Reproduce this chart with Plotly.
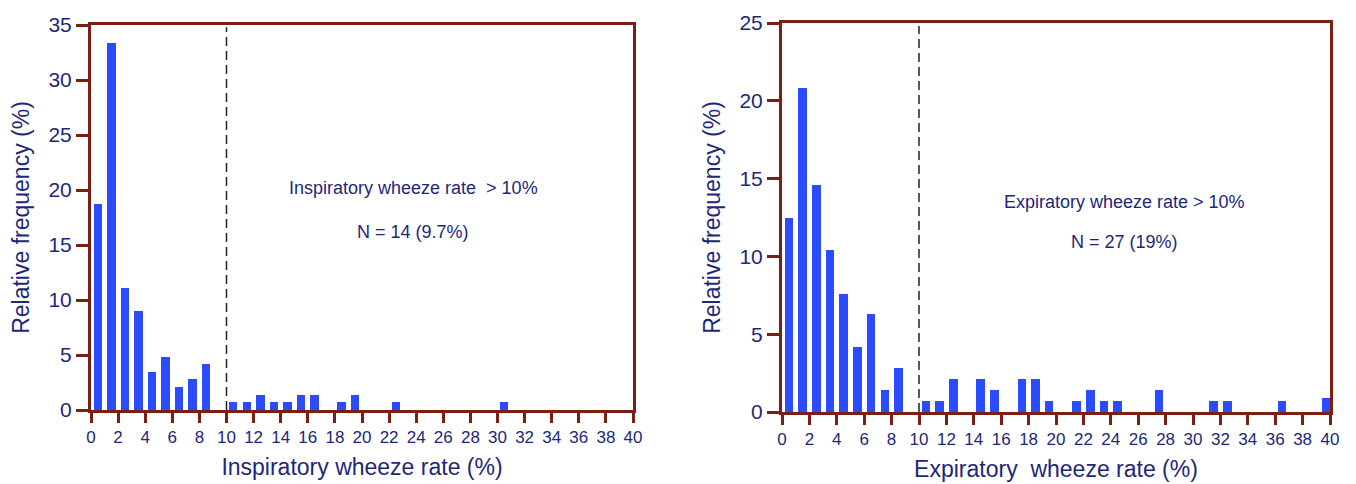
import plotly.graph_objects as go

# ---- data ----
insp_bins = [0.5, 1.5, 2.5, 3.5, 4.5, 5.5, 6.5, 7.5, 8.5, 10.5, 11.5, 12.5, 13.5, 14.5,
             15.5, 16.5, 18.5, 19.5, 22.5, 30.5]
insp_freq = [18.75, 33.33, 11.11, 9.03, 3.47, 4.86, 2.08, 2.78, 4.17, 0.69, 0.69, 1.39,
             0.69, 0.69, 1.39, 1.39, 0.69, 1.39, 0.69, 0.69]

exp_bins = [0.5, 1.5, 2.5, 3.5, 4.5, 5.5, 6.5, 7.5, 8.5, 10.5, 11.5, 12.5, 14.5, 15.5,
            17.5, 18.5, 19.5, 21.5, 22.5, 23.5, 24.5, 27.5, 31.5, 32.5, 36.5, 39.75]
exp_freq = [12.5, 20.8, 14.6, 10.4, 7.6, 4.2, 6.3, 1.4, 2.8, 0.7, 0.7, 2.1, 2.1, 1.4,
            2.1, 2.1, 0.7, 0.7, 1.4, 0.7, 0.7, 1.4, 0.7, 0.7, 0.7, 0.9]

x_ticks = list(range(0, 41, 2))
insp_yticks = [0, 5, 10, 15, 20, 25, 30, 35]
exp_yticks = [0, 5, 10, 15, 20, 25]

BAR = "#2B4BFF"
FRAME = "#7A1F12"
TEXT = "#1E2878"
FONT = "Liberation Sans, Arial, sans-serif"

fig = go.Figure()
fig.add_trace(go.Bar(x=insp_bins, y=insp_freq, width=0.62, marker=dict(color=BAR, line=dict(width=0)),
                     xaxis="x", yaxis="y", showlegend=False))
fig.add_trace(go.Bar(x=exp_bins, y=exp_freq, width=0.62, marker=dict(color=BAR, line=dict(width=0)),
                     xaxis="x2", yaxis="y2", showlegend=False))

W, H = 1356, 484


def xdom(a, b):
    return [a / W, b / W]


def ydom(top, bottom):
    return [(H - bottom) / H, (H - top) / H]


common_x = dict(range=[0, 40], tickmode="array", tickvals=x_ticks, ticks="outside", ticklen=10,
                tickwidth=3, tickcolor=FRAME, showline=True, linewidth=3, linecolor=FRAME,
                mirror=True, showgrid=False, zeroline=False,
                tickfont=dict(family=FONT, size=17, color=TEXT), automargin=False,
                title_font=dict(family=FONT, size=23, color=TEXT), title_standoff=13)
common_y = dict(ticks="outside", ticklen=12, tickwidth=3, tickcolor=FRAME, showline=True,
                linewidth=3, linecolor=FRAME, mirror=True, showgrid=False, zeroline=False,
                tickfont=dict(family=FONT, size=21, color=TEXT), automargin=False,
                title_font=dict(family=FONT, size=23, color=TEXT), title_standoff=13)

fig.update_layout(
    width=W, height=H, margin=dict(l=0, r=0, t=0, b=0),
    plot_bgcolor="white", paper_bgcolor="white", bargap=0,
    xaxis=dict(common_x, domain=xdom(91, 633), anchor="y",
               title=dict(text="Inspiratory wheeze rate (%)")),
    yaxis=dict(common_y, domain=ydom(25, 410), anchor="x", range=[0, 35],
               tickvals=insp_yticks, title=dict(text="Relative frequency (%)")),
    xaxis2=dict(common_x, domain=xdom(782, 1330), anchor="y2",
                title=dict(text="Expiratory\u00a0 wheeze rate (%)")),
    yaxis2=dict(common_y, domain=ydom(23, 412), anchor="x2", range=[0, 25],
                tickvals=exp_yticks, title=dict(text="Relative frequency (%)")),
)

# dashed threshold lines at 10%
fig.add_shape(type="line", xref="x", yref="y", x0=10, x1=10, y0=0, y1=34.8,
              line=dict(color="#222222", width=1.5, dash="9px,5px"))
fig.add_shape(type="line", xref="x2", yref="y2", x0=10, x1=10, y0=0, y1=24.8,
              line=dict(color="#222222", width=1.5, dash="9px,5px"))

ann_font = dict(family=FONT, size=18, color=TEXT)
fig.add_annotation(xref="x", yref="y", x=23.8, y=20.2, text="Inspiratory wheeze rate\u00a0 &gt; 10%",
                   showarrow=False, font=ann_font)
fig.add_annotation(xref="x", yref="y", x=23.8, y=16.2, text="N = 14 (9.7%)",
                   showarrow=False, font=ann_font)
fig.add_annotation(xref="x2", yref="y2", x=25.0, y=13.5, text="Expiratory wheeze rate &gt; 10%",
                   showarrow=False, font=ann_font)
fig.add_annotation(xref="x2", yref="y2", x=25.0, y=10.9, text="N = 27 (19%)",
                   showarrow=False, font=ann_font)

fig.write_html("out.html", config={"displayModeBar": False},
               post_script="document.body.style.margin='0';document.body.style.overflow='hidden';")
